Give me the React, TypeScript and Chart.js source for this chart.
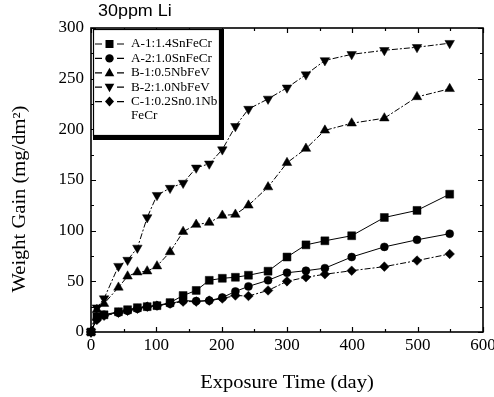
import React, { useEffect, useRef } from 'react';
import { Chart, registerables } from 'chart.js';

Chart.register(...registerables);

// ---- data ----
const days = [0, 9, 20, 42, 56, 71, 86, 101, 121, 141, 161, 181, 201, 221, 241, 271, 300, 329, 358, 399, 449, 499, 549];
const seriesA1 = [0, 15, 17, 20, 22, 24, 25, 26, 29, 36, 41, 51, 53, 54, 56, 60, 74, 86, 90, 95, 113, 120, 136];
const seriesA2 = [0, 13, 17, 19, 21, 23, 25, 26, 28, 31, 30.5, 31, 34, 40, 45, 51, 58.5, 60.5, 63, 74, 84, 91, 97];
const seriesB1 = [0, 22, 28, 44, 55, 59, 60, 65, 79, 99, 106, 108, 115, 116, 125, 143, 167, 181, 199, 206, 211, 232, 240];
const seriesB2 = [0, 24, 33, 65, 71, 83, 113, 135, 142, 147, 162, 166, 180, 203, 220, 230, 241, 254, 268, 274, 278, 281, 285];
const seriesC1 = [0, 12, 16, 19, 21, 23, 25, 26, 28, 30, 30, 31, 33, 36, 35.5, 41, 50, 54, 57, 60.5, 64.5, 70.5, 77];

const seriesLabels = ['A-1:1.4SnFeCr', 'A-2:1.0SnFeCr', 'B-1:0.5NbFeV', 'B-2:1.0NbFeV', 'C-1:0.2Sn0.1NbFeCr'];
const legendLines = [['A-1:1.4SnFeCr'], ['A-2:1.0SnFeCr'], ['B-1:0.5NbFeV'], ['B-2:1.0NbFeV'], ['C-1:0.2Sn0.1Nb', 'FeCr']];
const xTickValues = [0, 100, 200, 300, 400, 500, 600];
const yTickValues = [0, 50, 100, 150, 200, 250, 300];
const chartTitle = '30ppm Li';
const xTitle = 'Exposure Time (day)';
const yTitle = 'Weight Gain (mg/dm²)';

const SERIF = "'Liberation Serif', 'Times New Roman', serif";
const SANS = "'Liberation Sans', Arial, sans-serif";

type Marker = 'rect' | 'circle' | 'tri' | 'triDown' | 'diamond';
const markers: Marker[] = ['rect', 'circle', 'tri', 'triDown', 'diamond'];

function drawMarker(ctx: CanvasRenderingContext2D, m: Marker, cx: number, cy: number) {
  ctx.beginPath();
  if (m === 'rect') {
    ctx.rect(cx - 4, cy - 4, 8, 8);
  } else if (m === 'circle') {
    ctx.arc(cx, cy, 4.2, 0, Math.PI * 2);
  } else if (m === 'tri') {
    ctx.moveTo(cx, cy - 5);
    ctx.lineTo(cx + 4.8, cy + 3.5);
    ctx.lineTo(cx - 4.8, cy + 3.5);
    ctx.closePath();
  } else if (m === 'triDown') {
    ctx.moveTo(cx, cy + 5);
    ctx.lineTo(cx + 4.8, cy - 3.5);
    ctx.lineTo(cx - 4.8, cy - 3.5);
    ctx.closePath();
  } else {
    ctx.moveTo(cx, cy - 5);
    ctx.lineTo(cx + 4.5, cy);
    ctx.lineTo(cx, cy + 5);
    ctx.lineTo(cx - 4.5, cy);
    ctx.closePath();
  }
  ctx.fill();
}

const decorPlugin = {
  id: 'decor',
  afterDraw(chart: any) {
    const ctx: CanvasRenderingContext2D = chart.ctx;
    const { left, right, top, bottom } = chart.chartArea;
    const xs = chart.scales.x;
    const ys = chart.scales.y;
    ctx.save();
    ctx.strokeStyle = '#000';
    ctx.fillStyle = '#000';
    // frame
    ctx.lineWidth = 1.6;
    ctx.strokeRect(left, top, right - left, bottom - top);
    // inward ticks
    ctx.lineWidth = 1.2;
    ctx.beginPath();
    for (let v = 0; v <= 600; v += 50) {
      const px = Math.round(xs.getPixelForValue(v)) + 0.5;
      const len = v % 100 === 0 ? 5 : 3;
      ctx.moveTo(px, bottom);
      ctx.lineTo(px, bottom - len);
      ctx.moveTo(px, top);
      ctx.lineTo(px, top + len);
    }
    for (let v = 0; v <= 300; v += 25) {
      const py = Math.round(ys.getPixelForValue(v)) + 0.5;
      const len = v % 50 === 0 ? 5 : 3;
      ctx.moveTo(left, py);
      ctx.lineTo(left + len, py);
      ctx.moveTo(right, py);
      ctx.lineTo(right - len, py);
    }
    ctx.stroke();

    // chart title
    ctx.save();
    ctx.font = `16px ${SANS}`;
    ctx.textBaseline = 'middle';
    ctx.textAlign = 'left';
    ctx.translate(98, 12);
    ctx.scale(1.12, 1);
    ctx.fillText(chartTitle, 0, 0);
    ctx.restore();

    // x title
    ctx.save();
    ctx.font = `18px ${SERIF}`;
    ctx.textBaseline = 'middle';
    ctx.textAlign = 'center';
    ctx.translate((left + right) / 2, 383);
    ctx.scale(1.14, 1);
    ctx.fillText(xTitle, 0, 0);
    ctx.restore();

    // y title
    ctx.save();
    ctx.font = `18px ${SERIF}`;
    ctx.textBaseline = 'middle';
    ctx.textAlign = 'center';
    ctx.translate(20, 199);
    ctx.rotate(-Math.PI / 2);
    ctx.scale(1.14, 1);
    ctx.fillText(yTitle, 0, 0);
    ctx.restore();

    // legend box
    const bx = 93, by = 29, bw = 126, bh = 106;
    ctx.fillStyle = '#fff';
    ctx.fillRect(bx, by, bw, bh);
    ctx.fillStyle = '#000';
    ctx.lineWidth = 1.2;
    ctx.strokeRect(bx + 0.5, by + 0.5, bw, bh);
    ctx.fillRect(bx + bw, by, 5, bh + 5);
    ctx.fillRect(bx, by + bh, bw + 5, 5);

    ctx.font = `13.2px ${SERIF}`;
    ctx.textBaseline = 'middle';
    ctx.textAlign = 'left';
    let row = 0;
    legendLines.forEach((lines, i) => {
      const cy = 44 + row * 14.4;
      ctx.lineWidth = 1.2;
      ctx.beginPath();
      ctx.moveTo(95, cy);
      ctx.lineTo(102, cy);
      ctx.moveTo(117, cy);
      ctx.lineTo(124, cy);
      ctx.stroke();
      drawMarker(ctx, markers[i], 109.5, cy);
      lines.forEach((t, j) => {
        ctx.fillText(t, 131, 44 + (row + j) * 14.4);
      });
      row += lines.length;
    });
    ctx.restore();
  },
};

export default function App() {
  const ref = useRef<HTMLCanvasElement | null>(null);
  useEffect(() => {
    if (!ref.current) return;
    const all = [seriesA1, seriesA2, seriesB1, seriesB2, seriesC1];
    const styles = [
      { pointStyle: 'rect', pointRadius: 5.6, rot: 0, dash: [] as number[] },
      { pointStyle: 'circle', pointRadius: 4, rot: 0, dash: [] as number[] },
      { pointStyle: 'triangle', pointRadius: 5.5, rot: 0, dash: [6, 2, 2, 2] },
      { pointStyle: 'triangle', pointRadius: 5.5, rot: 180, dash: [6, 2, 2, 2] },
      { pointStyle: 'rectRot', pointRadius: 4.8, rot: 0, dash: [6, 2, 2, 2] },
    ];
    const datasets = all.map((vals, i) => ({
      label: seriesLabels[i],
      data: days.map((d, k) => ({ x: d, y: vals[k] })),
      borderColor: '#000',
      backgroundColor: '#000',
      pointBackgroundColor: '#000',
      pointBorderColor: '#000',
      pointBorderWidth: 0.5,
      borderWidth: 1,
      borderDash: styles[i].dash,
      pointStyle: styles[i].pointStyle as any,
      pointRadius: styles[i].pointRadius,
      pointRotation: styles[i].rot,
      tension: 0,
      clip: false as any,
    }));
    const chart = new Chart(ref.current, {
      type: 'line',
      data: { datasets },
      options: {
        animation: false,
        responsive: false,
        devicePixelRatio: 1,
        layout: { padding: { top: 28, right: 11, left: 0, bottom: 0 }, autoPadding: false },
        plugins: { legend: { display: false }, tooltip: { enabled: false }, title: { display: false } },
        scales: {
          x: {
            type: 'linear',
            min: 0,
            max: 600,
            afterBuildTicks: (s: any) => { s.ticks = xTickValues.map((v) => ({ value: v })); },
            afterFit: (s: any) => { s.height = 65; s.paddingLeft = 0; s.paddingRight = 0; },
            grid: { display: false, drawTicks: false },
            border: { display: false },
            ticks: { color: '#000', font: { family: SERIF, size: 17 }, padding: 3, maxRotation: 0, autoSkip: false },
          },
          y: {
            type: 'linear',
            min: 0,
            max: 300,
            afterBuildTicks: (s: any) => { s.ticks = yTickValues.map((v) => ({ value: v })); },
            afterFit: (s: any) => { s.width = 91; s.paddingTop = 0; s.paddingBottom = 0; },
            grid: { display: false, drawTicks: false },
            border: { display: false },
            ticks: { color: '#000', font: { family: SERIF, size: 17 }, padding: 7, autoSkip: false },
          },
        },
      },
      plugins: [decorPlugin],
    });
    return () => chart.destroy();
  }, []);
  return (
    <div style={{ position: 'absolute', left: 0, top: 0, width: 494, height: 397, background: '#fff' }}>
      <canvas ref={ref} width={494} height={397} style={{ width: 494, height: 397, display: 'block' }} />
    </div>
  );
}
